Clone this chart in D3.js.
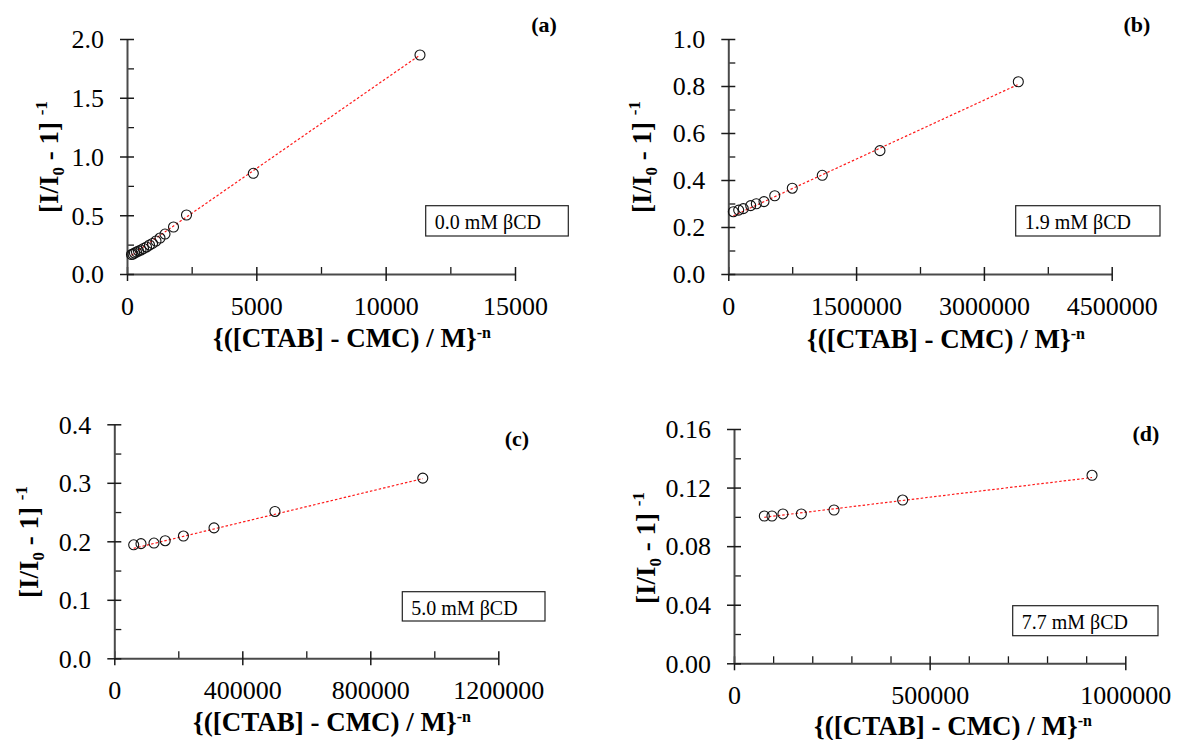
<!DOCTYPE html>
<html><head><meta charset="utf-8">
<script src="https://cdn.jsdelivr.net/npm/d3@7/dist/d3.min.js"></script>
<style>
html,body{margin:0;padding:0;background:#fff;}
svg{display:block;font-family:"Liberation Serif","Times New Roman",serif;}
</style></head>
<body>
<svg id="chart" width="1177" height="740"></svg>
<script>
// ---------- data ----------
const xA = [174,232,290,367,445,541,638,754,870,986,1121,1276,1469,1798,2300,4883,11327];
const yA = [0.166,0.170,0.179,0.187,0.196,0.204,0.217,0.230,0.247,0.260,0.281,0.306,0.340,0.400,0.502,0.857,1.864];
const fitA = [0.134, 1.527e-4];           // [intercept, slope]

const xB = [59000,122000,176000,263000,329000,419000,545000,751000,1103000,1780000,3404000];
const yB = [0.265,0.272,0.278,0.291,0.299,0.308,0.333,0.365,0.420,0.525,0.818];
const fitB = [0.2378, 1.672e-7];

const xC = [60600,83400,124000,159000,216000,311600,502000,964000];
const yC = [0.194,0.196,0.197,0.201,0.209,0.223,0.251,0.308];
const fitC = [0.180, 1.319e-7];

const xD = [77500,97000,125000,172000,255600,431000,915000];
const yD = [0.1006,0.1006,0.102,0.102,0.1047,0.1115,0.1284];
const fitD = [0.0972, 3.243e-8];

const xTicksA = [0,5000,10000,15000],          xMinorA = [2500,7500,12500];
const yTicksA = [0,0.5,1.0,1.5,2.0],           yMinorA = [0.25,0.75,1.25,1.75];
const xTicksB = [0,1500000,3000000,4500000],   xMinorB = [750000,2250000,3750000];
const yTicksB = [0,0.2,0.4,0.6,0.8,1.0],       yMinorB = [0.1,0.3,0.5,0.7,0.9];
const xTicksC = [0,400000,800000,1200000],     xMinorC = [200000,600000,1000000];
const yTicksC = [0,0.1,0.2,0.3,0.4],           yMinorC = [0.05,0.15,0.25,0.35];
const xTicksD = [0,500000,1000000],            xMinorD = [100000,200000,300000,400000,600000,700000,800000,900000];
const yTicksD = [0,0.04,0.08,0.12,0.16],       yMinorD = [0.02,0.06,0.10,0.14];

const panelLabels = ["(a)","(b)","(c)","(d)"];
const legendTexts = ["0.0 mM βCD","1.9 mM βCD","5.0 mM βCD","7.7 mM βCD"];

// ---------- layout ----------
const panels = [
  {x:xA,y:yA,fit:fitA,xt:xTicksA,xm:xMinorA,yt:yTicksA,ym:yMinorA,yfmt:".1f",
   xr:[127,515],yr:[274,39],
   ytitle:[58,157],xtitle:[352,347],lab:[544,32],leg:[425.7,205.7,142.6,30.3]},
  {x:xB,y:yB,fit:fitB,xt:xTicksB,xm:xMinorB,yt:yTicksB,ym:yMinorB,yfmt:".1f",
   xr:[728.3,1111.7],yr:[274,39],
   ytitle:[651,157],xtitle:[946,348],lab:[1137,32],leg:[1015.7,205.7,144.3,30.3]},
  {x:xC,y:yC,fit:fitC,xt:xTicksC,xm:xMinorC,yt:yTicksC,ym:yMinorC,yfmt:".1f",
   xr:[114.3,498.3],yr:[658.3,424.3],
   ytitle:[38,542],xtitle:[332,731],lab:[517,446],leg:[402.3,591.7,142.7,29.3]},
  {x:xD,y:yD,fit:fitD,xt:xTicksD,xm:xMinorD,yt:yTicksD,ym:yMinorD,yfmt:".2f",
   xr:[734,1125.3],yr:[663.3,429],
   ytitle:[655,548],xtitle:[953,735],lab:[1146,441],leg:[1012.7,605.7,145.3,30]}
];

const svg = d3.select("#chart");
const AX = "#4a4a4a", TK = "#1a1a1a", TS = 26;

panels.forEach((p,i)=>{
  const xs = d3.scaleLinear().domain([p.xt[0], p.xt[p.xt.length-1]]).range(p.xr);
  const ys = d3.scaleLinear().domain([p.yt[0], p.yt[p.yt.length-1]]).range(p.yr);
  const g = svg.append("g");

  // minor ticks (inward)
  const gxm = g.append("g").attr("transform",`translate(0,${p.yr[0]})`)
    .call(d3.axisBottom(xs).tickValues(p.xm).tickSize(-7).tickFormat(""));
  const gym = g.append("g").attr("transform",`translate(${p.xr[0]},0)`)
    .call(d3.axisLeft(ys).tickValues(p.ym).tickSize(-7).tickFormat(""));
  [gxm,gym].forEach(s=>{s.select(".domain").remove(); s.selectAll("line").attr("stroke",TK).attr("stroke-width",1.3);});

  // major x axis
  const gx = g.append("g").attr("transform",`translate(0,${p.yr[0]})`)
    .call(d3.axisBottom(xs).tickValues(p.xt).tickSizeOuter(0).tickFormat(d3.format("d")));
  gx.attr("font-family","Liberation Serif").attr("font-size",TS);
  gx.select(".domain").attr("stroke",AX).attr("stroke-width",2);
  gx.selectAll(".tick line").attr("y1",-7).attr("y2",7).attr("stroke",TK).attr("stroke-width",1.5);
  gx.selectAll(".tick text").attr("y",41).attr("dy",0).attr("fill","#000");

  // major y axis
  const gy = g.append("g").attr("transform",`translate(${p.xr[0]},0)`)
    .call(d3.axisLeft(ys).tickValues(p.yt).tickSizeOuter(0).tickFormat(d3.format(p.yfmt)));
  gy.attr("font-family","Liberation Serif").attr("font-size",TS);
  gy.select(".domain").attr("stroke",AX).attr("stroke-width",2);
  gy.selectAll(".tick line").attr("x1",-7).attr("x2",7).attr("stroke",TK).attr("stroke-width",1.5);
  gy.selectAll(".tick text").attr("x",-23).attr("dy","0.34em").attr("fill","#000");

  // fit line
  const xmin = d3.min(p.x), xmax = d3.max(p.x);
  const line = d3.line().x(d=>xs(d)).y(d=>ys(p.fit[0]+p.fit[1]*d));
  g.append("path").datum([xmin,xmax]).attr("d",line)
    .attr("fill","none").attr("stroke","#ff1a1a").attr("stroke-width",1.2)
    .attr("stroke-dasharray","2.5,2");

  // points
  g.selectAll("circle.pt").data(p.x.map((v,j)=>[v,p.y[j]])).enter().append("circle")
    .attr("class","pt").attr("cx",d=>xs(d[0])).attr("cy",d=>ys(d[1])).attr("r",5)
    .attr("fill","none").attr("stroke","#111").attr("stroke-width",1.1);

  // x title
  const xt = g.append("text").attr("x",p.xtitle[0]).attr("y",p.xtitle[1])
    .attr("text-anchor","middle").attr("font-weight","bold").attr("font-size",27).attr("fill","#000");
  xt.append("tspan").text("{([CTAB] - CMC) / M}");
  xt.append("tspan").attr("dy",-9).attr("font-size",16).text("-n");

  // y title
  const yt = g.append("text").attr("transform",`translate(${p.ytitle[0]},${p.ytitle[1]}) rotate(-90)`)
    .attr("text-anchor","middle").attr("font-weight","bold").attr("font-size",27).attr("fill","#000");
  yt.append("tspan").text("[I/I");
  yt.append("tspan").attr("dy",6).attr("font-size",17).text("0");
  yt.append("tspan").attr("dy",-6).text(" - 1] ");
  yt.append("tspan").attr("dy",-11).attr("font-size",17).text("-1");

  // panel label
  g.append("text").attr("x",p.lab[0]).attr("y",p.lab[1]).attr("text-anchor","middle")
    .attr("font-weight","bold").attr("font-size",22).attr("fill","#000").text(panelLabels[i]);

  // legend box
  g.append("rect").attr("x",p.leg[0]).attr("y",p.leg[1]).attr("width",p.leg[2]).attr("height",p.leg[3])
    .attr("fill","#fff").attr("stroke","#222").attr("stroke-width",1.2);
  g.append("text").attr("x",p.leg[0]+9).attr("y",p.leg[1]+23.5).attr("font-size",20)
    .attr("fill","#000").text(legendTexts[i]);
});
</script>
</body></html>
